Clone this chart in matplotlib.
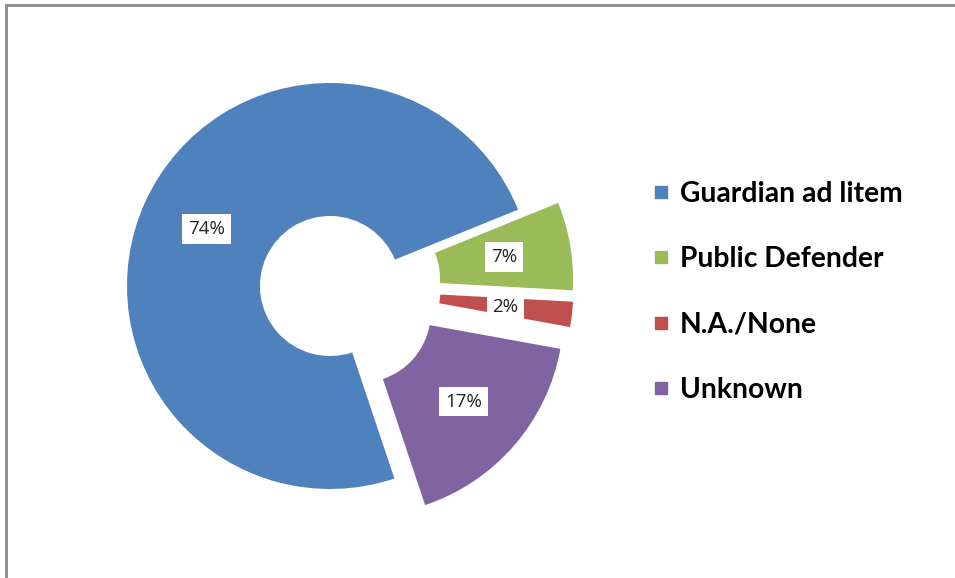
import matplotlib
matplotlib.use('Agg')
import matplotlib.pyplot as plt
from matplotlib.lines import Line2D
from matplotlib.patches import Rectangle

labels = ['Guardian ad litem', 'Public Defender', 'N.A./None', 'Unknown']
shares = [74, 7, 2, 17]
colors = ['#4F81BD', '#9BBB59', '#C0504D', '#8064A2']
explode_frac = [0, 0.2, 0.2, 0.2]

W, H = 955, 578
fig = plt.figure(figsize=(W/100, H/100), dpi=100)
ax = fig.add_axes([0, 0, 1, 1])

R = 203
wedges, texts, autotexts = ax.pie(
    shares, colors=colors, explode=[e*R for e in explode_frac],
    center=(330, H-286), radius=R,
    startangle=-71.5, counterclock=False, autopct='%1.0f%%', pctdistance=0.67,
    wedgeprops=dict(width=R*0.655, linewidth=0), frame=True)
ax.set_xlim(0, W); ax.set_ylim(0, H)
ax.set_aspect('equal')
ax.axis('off')
for t in autotexts:
    t.set_fontfamily('Open Sans')
    t.set_fontsize(13.5)
    t.set_color('#222222')
    t.set_bbox(dict(facecolor='white', edgecolor='none', pad=4.2))

# frame
fig.patches.append(Rectangle((6/W, -0.1), 1.2, 1 - 5/H + 0.1, transform=fig.transFigure,
                             fill=False, edgecolor='#888888', linewidth=2))

handles = [Line2D([], [], marker='s', linestyle='none', markersize=8.5,
                  markerfacecolor=c, markeredgecolor=c) for c in colors]
fig.legend(handles, labels, loc='center left', bbox_to_anchor=(626/W, 1 - 292/H),
           frameon=False, handlelength=0.7, handletextpad=0.3, labelspacing=1.4,
           prop=dict(family='Lato', weight='bold', size=20.3))

plt.savefig('out.png', dpi=100)
